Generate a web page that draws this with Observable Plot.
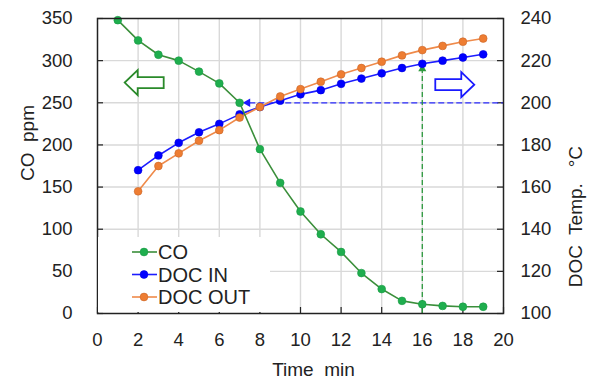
<!DOCTYPE html>
<html>
<head>
<meta charset="utf-8">
<script src="https://cdn.jsdelivr.net/npm/d3@7"></script>
<script src="https://cdn.jsdelivr.net/npm/@observablehq/plot@0.6"></script>
<style>
  html, body { margin: 0; padding: 0; background: #fff; }
  #wrap { position: relative; width: 590px; height: 381px; font-family: "Liberation Sans", Arial, sans-serif; }
  #wrap svg text { white-space: pre; }
  #legend { position: absolute; left: 98px; top: 237px; width: 172px; height: 75px; background: #fff; }
</style>
</head>
<body>
<div id="wrap"></div>
<script>
// ---- data ----
const coTime = [1,2,3,4,5,6,7,8,9,10,11,12,13,14,15,16,17,18,19];
const coPpm  = [348,324,307,300,287,273,250,195,155,121,94,73,48,29,15,11,9,8,8];
const docTime = [2,3,4,5,6,7,8,9,10,11,12,13,14,15,16,17,18,19];
const docIn   = [168,175,181,186,190,194.5,198,201,204,206,209,211.5,214,216.5,218.5,220,221.5,223];
const docOut  = [158,170,176,182,187,193,198,203,206.5,210,213.5,216.5,219.5,222.5,225,227,229,230.5];
const xTicks = [0,2,4,6,8,10,12,14,16,18,20];
const yTicksPpm = [0,50,100,150,200,250,300,350];
const seriesNames = ["CO","DOC IN","DOC OUT"];
const seriesColors = {"CO": {line: "#3b8f3b", fill: "#1fae4e", stroke: "#1a9a44"},
                      "DOC IN": {line: "#1c1cff", fill: "#0000ff", stroke: "#0000e0"},
                      "DOC OUT": {line: "#ef8a4a", fill: "#ee7d32", stroke: "#c9662a"}};
// guide annotations
const tempGuide = 200;      // °C horizontal guide
const tempGuideFrom = 7.5;  // min
const timeGuide = 16;       // min, vertical guide
const timeGuideTop = 216.5; // °C
const arrows = [{t: 2.3, ppm: 274, dir: "left", color: "#2a8a2a"},
                {t: 17.6, ppm: 271.5, dir: "right", color: "#1a1aff"}];

// temperature (100–240 °C) shares the ppm scale (0–350)
const t2p = T => (T - 100) * 2.5;
const p2t = p => 100 + p / 2.5;

const co = coTime.map((t, i) => ({t, v: coPpm[i]}));
const dIn = docTime.map((t, i) => ({t, v: t2p(docIn[i])}));
const dOut = docTime.map((t, i) => ({t, v: t2p(docOut[i])}));

const hollowArrow = {
  draw(ctx) {
    ctx.moveTo(-19.5, -5.5); ctx.lineTo(6.5, -5.5); ctx.lineTo(6.5, -12.5);
    ctx.lineTo(19.5, 0); ctx.lineTo(6.5, 12.5); ctx.lineTo(6.5, 5.5);
    ctx.lineTo(-19.5, 5.5); ctx.closePath();
  }
};

const W = 590, H = 381, mL = 97, mR = 87, mT = 18, mB = 68;
const frameW = W - mL - mR, frameH = H - mT - mB;
const grid = "#d9d9d9";
const font = 18.5;

const series = (data, name) => [
  Plot.line(data, {x: "t", y: "v", stroke: seriesColors[name].line, strokeWidth: 1.6}),
  Plot.dot(data, {x: "t", y: "v", r: 3.9, fill: seriesColors[name].fill, stroke: seriesColors[name].stroke, strokeWidth: 0.6})
];

const chart = Plot.plot({
  width: W, height: H,
  marginLeft: mL, marginRight: mR, marginTop: mT, marginBottom: mB,
  style: {fontFamily: '"Liberation Sans", Arial, sans-serif', fontSize: font + "px", color: "#222", background: "#fff"},
  x: {domain: [0, 20]},
  y: {domain: [0, 350]},
  marks: [
    Plot.gridX(xTicks.slice(1, -1), {stroke: grid, strokeOpacity: 1, strokeWidth: 1.4}),
    Plot.gridY(yTicksPpm.slice(1, -1), {stroke: grid, strokeOpacity: 1, strokeWidth: 1.4}),
    // inward ticks
    Plot.tickY(yTicksPpm, {y: d => d, insetRight: frameW - 6, stroke: "#222", strokeWidth: 1.2}),
    Plot.tickY(yTicksPpm, {y: d => d, insetLeft: frameW - 6, stroke: "#222", strokeWidth: 1.2}),
    Plot.tickX(xTicks, {x: d => d, insetTop: frameH - 6, stroke: "#222", strokeWidth: 1.2}),
    Plot.axisY({ticks: yTicksPpm, tickSize: 0, tickPadding: 25, label: null, fontSize: font}),
    Plot.axisY({anchor: "right", ticks: yTicksPpm, tickFormat: p2t, tickSize: 0, tickPadding: 17, label: null, fontSize: font}),
    Plot.axisX({ticks: xTicks, tickSize: 0, tickPadding: 19, label: null, fontSize: font}),
    // axis titles
    Plot.text(["CO  ppm"], {frameAnchor: "left", rotate: -90, dx: -70, dy: 15, fontSize: 19, fill: "#222"}),
    Plot.text(["DOC  Temp.   °C"], {frameAnchor: "right", rotate: -90, dx: 72, dy: -20, fontSize: 19, fill: "#222"}),
    Plot.text(["Time  min"], {frameAnchor: "bottom", dx: 13, dy: 62, fontSize: 19, fill: "#222"}),
    // guides
    Plot.ruleY([t2p(tempGuide)], {x1: tempGuideFrom, x2: 20, stroke: "#2b2bff", strokeWidth: 1.3, strokeDasharray: "6,3"}),
    Plot.dot([t2p(tempGuide)], {x: tempGuideFrom - 0.1, y: d => d, symbol: "triangle", rotate: -90, r: 3.2, fill: "#1a1aff"}),
    Plot.ruleX([timeGuide], {y1: 0, y2: t2p(timeGuideTop), stroke: "#2e9a3e", strokeWidth: 1.3, strokeDasharray: "5,3"}),
    Plot.dot([timeGuide], {x: d => d, y: t2p(timeGuideTop) - 1, symbol: "triangle", r: 3, fill: "#2e9a3e"}),
    // hollow direction arrows
    Plot.dot(arrows, {x: "t", y: "ppm", symbol: hollowArrow, r: 5, fill: "#fff", stroke: "color", strokeWidth: 1.8,
                      rotate: d => d.dir === "left" ? 180 : 0}),
    ...series(dIn, "DOC IN"),
    ...series(dOut, "DOC OUT"),
    ...series(co, "CO"),
    Plot.frame({stroke: "#222", strokeWidth: 1.5})
  ]
});

const wrap = document.getElementById("wrap");
wrap.appendChild(chart);

// legend (overlay inside plot area, bottom-left)
const lg = d3.select(wrap).append("div").attr("id", "legend");
const lsvg = lg.append("svg").attr("width", 172).attr("height", 75);
seriesNames.forEach((name, i) => {
  const cy = 15 + i * 22.5;
  const c = seriesColors[name];
  lsvg.append("line").attr("x1", 34).attr("x2", 59).attr("y1", cy).attr("y2", cy)
    .attr("stroke", c.line).attr("stroke-width", 1.6);
  lsvg.append("circle").attr("cx", 46).attr("cy", cy).attr("r", 3.9)
    .attr("fill", c.fill).attr("stroke", c.stroke).attr("stroke-width", 0.6);
  lsvg.append("text").attr("x", 60).attr("y", cy).attr("dy", "0.36em")
    .attr("font-family", '"Liberation Sans", Arial, sans-serif').attr("font-size", 20)
    .attr("fill", "#222").text(name);
});
</script>
</body>
</html>
